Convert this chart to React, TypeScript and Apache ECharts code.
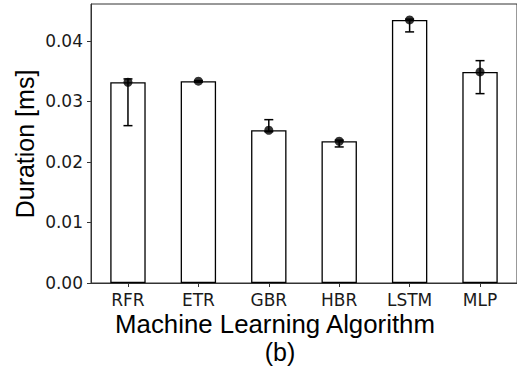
import React, { useEffect, useRef } from "react";
import * as echarts from "echarts";

const categories = ["RFR", "ETR", "GBR", "HBR", "LSTM", "MLP"];
const means = [0.03317, 0.03334, 0.02524, 0.02342, 0.04347, 0.03488];
const errLow = [0.026, 0.0332, 0.0250, 0.02248, 0.04149, 0.03129];
const errHigh = [0.03372, 0.03345, 0.02699, 0.0236, 0.0436, 0.03674];
const yTicks = [0, 0.01, 0.02, 0.03, 0.04];

export default function App() {
  const ref = useRef<HTMLDivElement>(null);
  useEffect(() => {
    if (!ref.current) return;
    const chart = echarts.init(ref.current, null, { renderer: "svg" });
    const tickFont = { fontFamily: "DejaVu Sans", fontSize: 17, color: "#1a1a1a" };
    const option: any = {
      animation: false,
      backgroundColor: "#fff",
      grid: { left: 91, top: 4, width: 429, height: 279, show: true, borderColor: "#333", borderWidth: 1, backgroundColor: "transparent" },
      xAxis: {
        type: "value",
        min: -0.525,
        max: 5.525,
        axisLine: { show: true, onZero: false, lineStyle: { color: "#333", width: 1 } },
        axisTick: { show: true, length: 4, lineStyle: { color: "#333" }, customValues: categories.map((_, i) => i) },
        axisLabel: {
          ...tickFont,
          margin: 8,
          customValues: categories.map((_, i) => i),
          formatter: (v: number) => categories[Math.round(v)] ?? "",
        },
        splitLine: { show: false },
      },
      yAxis: {
        type: "value",
        min: 0,
        max: 0.0461,
        axisLine: { show: true, onZero: false, lineStyle: { color: "#333", width: 1 } },
        axisTick: { show: true, length: 4, lineStyle: { color: "#333" }, customValues: yTicks },
        axisLabel: {
          ...tickFont,
          margin: 8,
          customValues: yTicks,
          formatter: (v: number) => v.toFixed(2),
        },
        splitLine: { show: false },
      },
      series: [
        {
          type: "bar",
          data: means.map((v, i) => [i, v]),
          barWidth: 35.4,
          itemStyle: { color: "#fff", borderColor: "#000", borderWidth: 1.3 },
          z: 1,
        },
        {
          type: "custom",
          data: categories.map((_, i) => [i, errLow[i], errHigh[i]]),
          z: 3,
          renderItem: (params: any, api: any) => {
            const x = api.value(0);
            const lo = api.coord([x, api.value(1)]);
            const hi = api.coord([x, api.value(2)]);
            const cap = 4.5;
            const st = { stroke: "#000", lineWidth: 1.5 };
            return {
              type: "group",
              children: [
                { type: "line", shape: { x1: lo[0], y1: lo[1], x2: hi[0], y2: hi[1] }, style: st },
                { type: "line", shape: { x1: lo[0] - cap, y1: lo[1], x2: lo[0] + cap, y2: lo[1] }, style: st },
                { type: "line", shape: { x1: hi[0] - cap, y1: hi[1], x2: hi[0] + cap, y2: hi[1] }, style: st },
              ],
            };
          },
        },
        {
          type: "scatter",
          data: means.map((v, i) => [i, v]),
          symbol: "circle",
          symbolSize: 9,
          itemStyle: { color: "#000" },
          z: 4,
        },
      ],
      graphic: [
        {
          type: "text",
          x: 25,
          y: 144,
          rotation: Math.PI / 2,
          style: { text: "Duration [ms]", fontFamily: "Liberation Sans", fontSize: 25, fill: "#000", align: "center", verticalAlign: "middle" },
        },
        {
          type: "text",
          x: 275,
          y: 324,
          style: { text: "Machine Learning Algorithm", fontFamily: "Liberation Sans", fontSize: 25.8, fill: "#000", align: "center", verticalAlign: "middle" },
        },
        {
          type: "text",
          x: 280,
          y: 352,
          style: { text: "(b)", fontFamily: "Liberation Sans", fontSize: 25, fill: "#000", align: "center", verticalAlign: "middle" },
        },
      ],
    };
    chart.setOption(option);
    return () => chart.dispose();
  }, []);
  return (
    <div
      ref={ref}
      style={{ position: "fixed", left: 0, top: 0, width: 517, height: 376, background: "#fff" }}
    />
  );
}
